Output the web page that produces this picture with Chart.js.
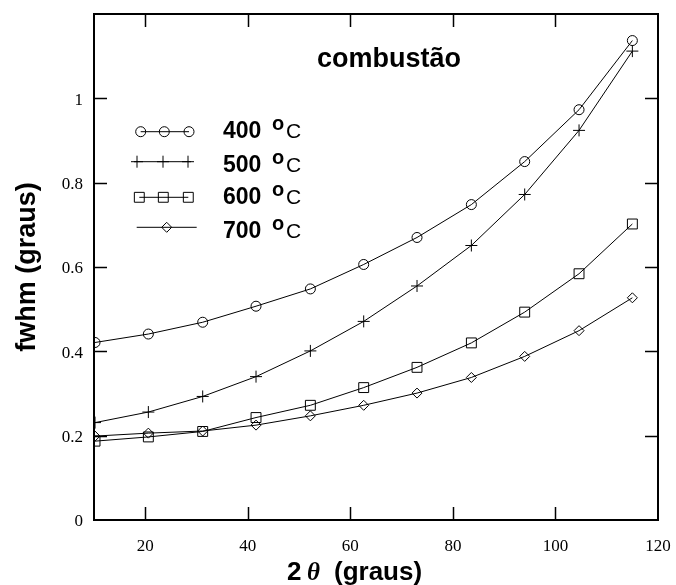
<!DOCTYPE html>
<html><head><meta charset="utf-8">
<script src="https://cdn.jsdelivr.net/npm/chart.js@4.4.0/dist/chart.umd.min.js"></script>
<style>html,body{margin:0;padding:0;background:#fff}#wrap{width:676px;height:585px}</style>
</head><body><div id="wrap"><canvas id="c" width="676" height="585"></canvas></div>
<script>
// ---- data ----
const twoTheta = [10.2, 20.6, 31.2, 41.6, 52.2, 62.6, 73.0, 83.6, 94.0, 104.6, 115.0];
const fwhm400 = [0.421, 0.441, 0.469, 0.507, 0.548, 0.606, 0.670, 0.748, 0.850, 0.973, 1.137];
const fwhm500 = [0.231, 0.256, 0.293, 0.340, 0.401, 0.471, 0.555, 0.651, 0.772, 0.924, 1.112];
const fwhm600 = [0.187, 0.197, 0.210, 0.243, 0.272, 0.314, 0.362, 0.420, 0.493, 0.584, 0.702];
const fwhm700 = [0.199, 0.206, 0.211, 0.225, 0.247, 0.272, 0.301, 0.338, 0.388, 0.449, 0.527];
const seriesLabels = ['400', '500', '600', '700'];
const xTicks = [20, 40, 60, 80, 100, 120];
const yTicks = [0, 0.2, 0.4, 0.6, 0.8, 1];
const xTitleParts = ['2', 'θ', '(graus)'];
const yTitle = 'fwhm (graus)';
const annotation = 'combustão';

const series = [fwhm400, fwhm500, fwhm600, fwhm700];
const styles = ['circle', 'cross', 'rect', 'rectRot'];
const radii = [5, 6, 7, 5];

const datasets = series.map((s, i) => ({
  label: seriesLabels[i] + ' °C',
  data: s.map((v, j) => ({x: twoTheta[j], y: v})),
  borderColor: '#000',
  borderWidth: 1,
  pointStyle: styles[i],
  pointRadius: radii[i],
  pointBorderColor: '#000',
  pointBorderWidth: 1,
  pointBackgroundColor: 'rgba(0,0,0,0)',
  tension: 0,
  fill: false
}));

function marker(ctx, style, x, y, r) {
  ctx.beginPath();
  if (style === 'circle') {
    ctx.arc(x, y, r, 0, Math.PI * 2);
  } else if (style === 'cross') {
    ctx.moveTo(x, y - r); ctx.lineTo(x, y + r);
    ctx.moveTo(x - r, y); ctx.lineTo(x + r, y);
  } else if (style === 'rect') {
    const s = Math.SQRT1_2 * r;
    ctx.rect(x - s, y - s, 2 * s, 2 * s);
  } else if (style === 'rectRot') {
    ctx.moveTo(x - r, y); ctx.lineTo(x, y - r); ctx.lineTo(x + r, y); ctx.lineTo(x, y + r); ctx.closePath();
  }
  ctx.stroke();
}

const legendRows = [
  {style: 'circle', r: 5, y: 131.7, x0: 140.7, x1: 189, marks: [140.7, 164.3, 189], base: 138},
  {style: 'cross', r: 6, y: 161.7, x0: 134, x1: 191, marks: [137, 163, 188], base: 171.7},
  {style: 'rect', r: 7, y: 197.3, x0: 139.3, x1: 188.3, marks: [139.3, 163.3, 188.3], base: 204.3},
  {style: 'rectRot', r: 5, y: 227.3, x0: 136.7, x1: 196.7, marks: [166.7], base: 237.7}
];

const decor = {
  id: 'decor',
  afterDraw(chart) {
    const ctx = chart.ctx;
    const {left, right, top, bottom} = chart.chartArea;
    const xs = chart.scales.x, ys = chart.scales.y;
    ctx.save();
    ctx.strokeStyle = '#000';
    ctx.fillStyle = '#000';
    // frame
    ctx.lineWidth = 2;
    ctx.strokeRect(left, top, right - left, bottom - top);
    // inward ticks
    ctx.lineWidth = 1.5;
    ctx.beginPath();
    xTicks.forEach(v => {
      if (v >= xs.max) return;
      const px = Math.round(xs.getPixelForValue(v)) + 0.5;
      ctx.moveTo(px, bottom); ctx.lineTo(px, bottom - 13);
      ctx.moveTo(px, top); ctx.lineTo(px, top + 13);
    });
    yTicks.forEach(v => {
      if (v <= ys.min) return;
      const py = Math.round(ys.getPixelForValue(v)) + 0.5;
      ctx.moveTo(left, py); ctx.lineTo(left + 13, py);
      ctx.moveTo(right, py); ctx.lineTo(right - 13, py);
    });
    ctx.stroke();

    // x title
    ctx.textBaseline = 'alphabetic';
    ctx.textAlign = 'left';
    ctx.font = 'bold 26px "Liberation Sans", Arial, sans-serif';
    ctx.fillText(xTitleParts[0], 287, 580);
    ctx.font = 'italic bold 25px "Liberation Serif", serif';
    ctx.fillText(xTitleParts[1], 307, 580);
    ctx.font = 'bold 26px "Liberation Sans", Arial, sans-serif';
    ctx.fillText(xTitleParts[2], 334, 580);

    // annotation
    ctx.font = 'bold 27px "Liberation Sans", Arial, sans-serif';
    ctx.fillText(annotation, 317, 67);

    // legend
    ctx.lineWidth = 1;
    legendRows.forEach((row, i) => {
      ctx.beginPath();
      ctx.moveTo(row.x0, row.y); ctx.lineTo(row.x1, row.y);
      ctx.stroke();
      row.marks.forEach(mx => marker(ctx, row.style, mx, row.y, row.r));
      ctx.font = 'bold 23px "Liberation Sans", Arial, sans-serif';
      ctx.fillText(seriesLabels[i], 223, row.base);
      ctx.font = 'bold 20px "Liberation Sans", Arial, sans-serif';
      ctx.fillText('o', 272, row.base - 8);
      ctx.font = '21px "Liberation Sans", Arial, sans-serif';
      ctx.fillText('C', 286, row.base);
    });
    ctx.restore();
  }
};

const tickFont = {family: '"Liberation Serif", "Times New Roman", serif', size: 17};
const noPad = s => { s.paddingTop = 0; s.paddingBottom = 0; s.paddingLeft = 0; s.paddingRight = 0; };

new Chart(document.getElementById('c'), {
  type: 'line',
  data: {datasets},
  options: {
    responsive: false,
    animation: false,
    devicePixelRatio: 1,
    layout: {padding: {top: 14, right: 18, left: 0, bottom: 0}},
    plugins: {legend: {display: false}, tooltip: {enabled: false}},
    scales: {
      x: {
        type: 'linear', min: 10, max: 120,
        grid: {display: false, drawTicks: false},
        border: {display: false},
        afterBuildTicks: s => { s.ticks = xTicks.map(v => ({value: v})); },
        afterFit: s => { s.height = 65; noPad(s); },
        ticks: {font: tickFont, color: '#000', padding: 16, maxRotation: 0, autoSkip: false, callback: v => String(v)},
        title: {display: false}
      },
      y: {
        type: 'linear', min: 0, max: 1.2,
        grid: {display: false, drawTicks: false},
        border: {display: false},
        afterBuildTicks: s => { s.ticks = yTicks.map(v => ({value: v})); },
        afterFit: s => { s.width = 94; noPad(s); },
        ticks: {font: tickFont, color: '#000', padding: 11, labelOffset: 2, autoSkip: false, callback: v => String(v)},
        title: {display: true, text: yTitle, color: '#000', font: {family: '"Liberation Sans", Arial, sans-serif', size: 27, weight: 'bold'}, padding: {top: 11, bottom: 0}}
      }
    }
  },
  plugins: [decor]
});
</script>
</body></html>
